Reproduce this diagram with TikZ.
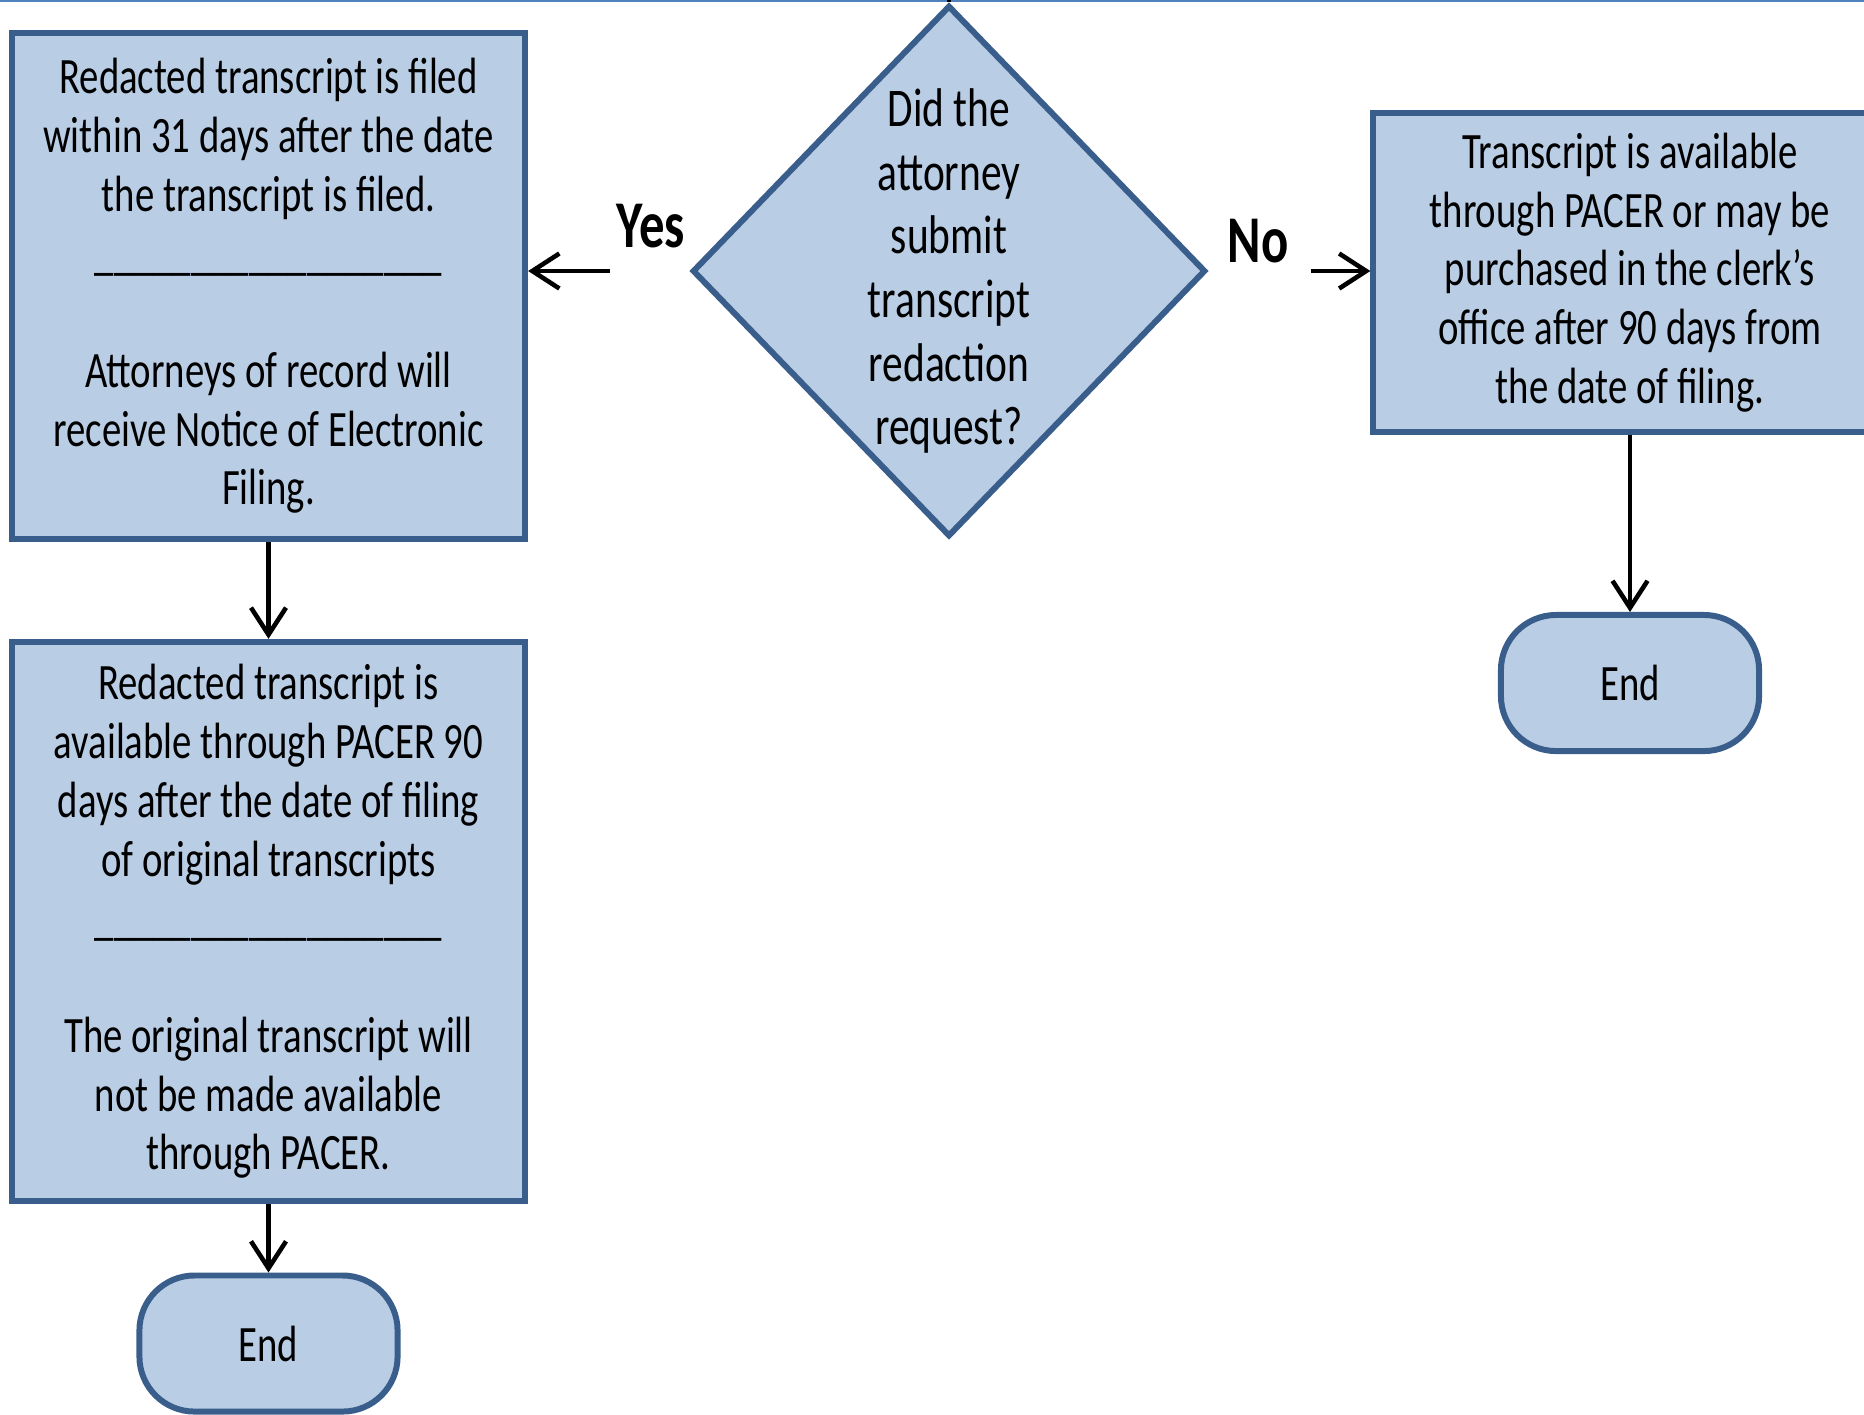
\documentclass[tikz,border=0pt]{standalone}
\usepackage{fontspec}
\setmainfont{Carlito}
\newfontfamily\flowfont[FakeStretch=0.76]{Carlito}
\usetikzlibrary{arrows.meta,shapes.geometric}
\definecolor{flowfill}{HTML}{B9CDE5}
\definecolor{flowedge}{HTML}{3A5E8C}
\definecolor{pageline}{HTML}{4F81BD}
\newcommand{\bodyfont}{\flowfont\fontsize{14.5}{16.7}\selectfont}
\newcommand{\askfont}{\flowfont\fontsize{15.5}{18.1}\selectfont}
\newcommand{\answerfont}{\flowfont\fontsize{19}{22}\selectfont\bfseries}
\newcommand{\rulerow}{\_\_\_\_\_\_\_\_\_\_\_\_\_\_\_\_\_\_}
\tikzset{
  >={Straight Barb[length=2.7mm,width=3.5mm]},
  process/.style = {draw=flowedge, fill=flowfill, line width=1.7pt,
                    minimum width=5.13cm, align=center, font=\bodyfont},
  decision/.style = {diamond, draw=flowedge, fill=flowfill, line width=1.7pt,
                     minimum width=5.13cm, minimum height=5.31cm, inner sep=0},
  asktext/.style = {align=center, font=\askfont, inner sep=0},
  terminal/.style = {draw=flowedge, fill=flowfill, line width=1.7pt,
                     rounded corners=0.55cm, minimum width=2.58cm,
                     minimum height=1.36cm, font=\bodyfont},
  answer/.style = {font=\answerfont, inner sep=0},
  link/.style = {->, line width=1.3pt, black},
}
\begin{document}
\begin{tikzpicture}[x=0.01cm,y=-0.01cm]
\useasboundingbox (0,0) rectangle (1864,1414);
\draw[pageline, line width=0.7pt] (0,1) -- (1864,1);

\node[decision] (ask) at (949,271) {};
\node[asktext] (askq) at (ask.center) {Did the\\attorney\\submit\\transcript\\redaction\\request?};

\node[process, minimum height=5.06cm] (redact) at (268.5,286)
  {Redacted transcript is filed\\within 31 days after the date\\the transcript is filed.\\
   \rulerow\\ \mbox{}\\Attorneys of record will\\receive Notice of Electronic\\Filing.};
\node[process, minimum height=5.59cm] (pacer) at (268.5,921.5)
  {Redacted transcript is\\available through PACER 90\\days after the date of filing\\
   of original transcripts\\ \rulerow\\ \mbox{}\\The original transcript will\\
   not be made available\\through PACER.};
\node[process, minimum height=3.19cm] (avail) at (1630,272.5)
  {Transcript is available\\through PACER or may be\\purchased in the clerk’s\\
   office after 90 days from\\the date of filing.};

\node[terminal] (endL) at (268.5,1343.5) {End};
\node[terminal] (endR) at (1630,683) {End};

\node[answer] (yes) at (651,226) {Yes};
\node[answer] (no) at (1258,241) {No};

\coordinate (askin) at (949,-5);
\coordinate (yestail) at (610,271);
\coordinate (notail) at (1311,271);
\draw[link,-] (askin) -- (ask.north);
\draw[link] (yestail) -- (yestail -| redact.east);
\draw[link] (notail) -- (notail -| avail.west);
\draw[link] (redact.south) -- (pacer.north);
\draw[link] (pacer.south) -- (endL.north);
\draw[link] (avail.south) -- (endR.north);
\end{tikzpicture}
\end{document}
